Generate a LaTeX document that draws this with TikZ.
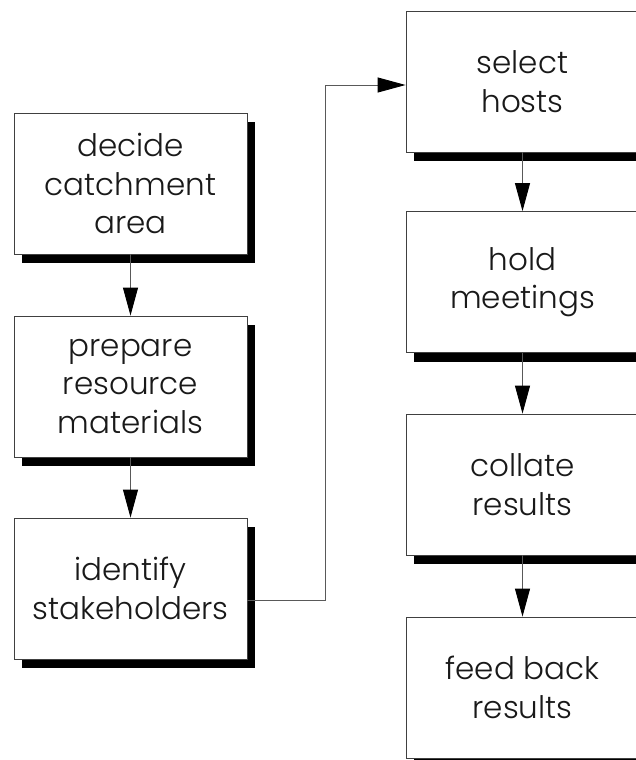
\documentclass[tikz,border=0pt]{standalone}
\usepackage{fontspec}
\setmainfont{Poppins Light}
\usetikzlibrary{arrows.meta,shadows}

\tikzset{
  stepbox/.style={
    draw=black!75, line width=0.8pt, fill=white,
    minimum width=233pt, minimum height=141pt, inner sep=0pt,
    align=center, text=black!90,
    font=\fontsize{31pt}{38.5pt}\selectfont,
    general shadow={fill=black, draw=none, shadow xshift=8pt, shadow yshift=-9pt}
  },
  flow/.style={
    draw=black!65, line width=0.9pt,
    -{Triangle[length=28pt,width=15pt,color=black]}
  }
}

\begin{document}
\begin{tikzpicture}[x=1pt,y=-1pt]
  \useasboundingbox (0,0) rectangle (636,760);
  \clip (0,0) rectangle (636,760);

  % left column
  \node[stepbox] (catch)   at (130.5,183.5) {decide\\catchment\\area};
  \node[stepbox] (prep)    at (130.5,386.5) {prepare\\resource\\materials};
  \node[stepbox] (ident)   at (130.5,588.5) {identify\\stakeholders};

  % right column
  \node[stepbox] (hosts)   at (522.5,81.5)  {select\\hosts};
  \node[stepbox] (meet)    at (522.5,282)   {hold\\meetings};
  \node[stepbox] (collate) at (522.5,484.5) {collate\\results};
  \node[stepbox, general shadow={}] (feed) at (522.5,687.5) {feed back\\results};

  % connectors
  \draw[flow] (catch.south) -- (prep.north);
  \draw[flow] (prep.south) -- (ident.north);
  \draw[flow] ([yshift=-11.5pt]ident.east) -- ++(78.5,0) |- ([yshift=-3.5pt]hosts.west);
  \draw[flow] (hosts.south) -- (meet.north);
  \draw[flow] (meet.south) -- (collate.north);
  \draw[flow] (collate.south) -- (feed.north);
\end{tikzpicture}
\end{document}
